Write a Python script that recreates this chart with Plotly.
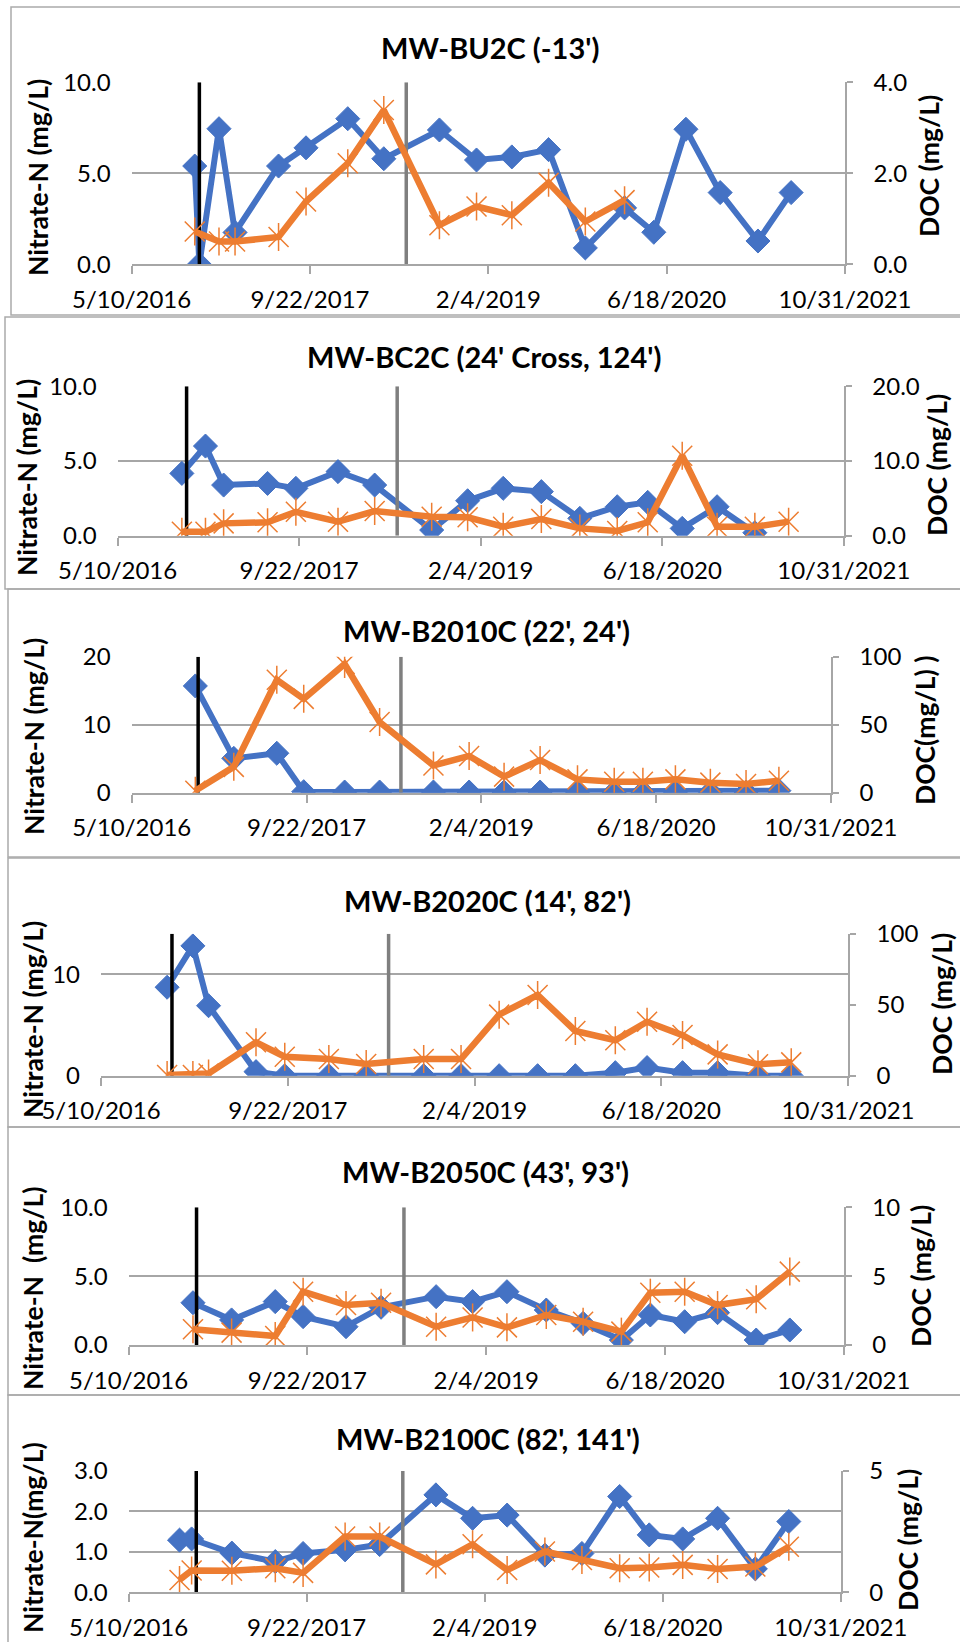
import plotly.graph_objects as go

W, H = 960, 1642
BLUE = '#4472C4'
ORANGE = '#ED7D31'
GRID = '#A6A6A6'
FRAME = '#ABABAB'

# ---------------- data ----------------
x_tick_dates = ['2016-05-10', '2017-09-22', '2019-02-04', '2020-06-18', '2021-10-31']
x_tick_labels = ['5/10/2016', '9/22/2017', '2/4/2019', '6/18/2020', '10/31/2021']
event_dates = ['2016-11-16', '2018-06-19']
event_colors = ['#000000', '#7F7F7F']

titles = ["MW-BU2C (-13')", "MW-BC2C (24' Cross, 124')", "MW-B2010C (22', 24')",
          "MW-B2020C (14', 82')", "MW-B2050C (43', 93')", "MW-B2100C (82', 141')"]
left_titles = ["Nitrate-N (mg/L)", "Nitrate-N (mg/L)", "Nitrate-N (mg/L)",
               "Nitrate-N (mg/L)", "Nitrate-N\u00a0\u00a0(mg/L)", "Nitrate-N(mg/L)"]
right_titles = ["DOC (mg/L)", "DOC (mg/L)", "DOC(mg/L) )", "DOC (mg/L)", "DOC (mg/L)", "DOC (mg/L)"]

bu2c_dates = ['2016-11-03', '2016-11-16', '2017-01-10', '2017-02-24', '2017-06-26', '2017-09-11',
              '2018-01-06', '2018-04-17', '2018-09-20', '2019-01-02', '2019-04-11', '2019-07-23',
              '2019-11-03', '2020-02-21', '2020-05-13', '2020-08-11', '2020-11-15', '2021-03-01',
              '2021-06-02']
bu2c_nitrate = [5.4, 0.0, 7.45, 1.75, 5.4, 6.4, 8.0, 5.8, 7.38, 5.73, 5.9, 6.3, 0.9, 3.1, 1.76,
                7.42, 3.94, 1.28, 3.94]
bu2c_doc = [0.72, None, 0.5, 0.5, 0.6, 1.38, 2.22, 3.39, 0.86, 1.27, 1.08, 1.79, 0.94, 1.41,
            None, None, None, None, None]

bc2c_dates = ['2016-11-03', '2017-01-07', '2017-02-26', '2017-06-27', '2017-09-13', '2018-01-07',
              '2018-04-18', '2018-09-22', '2018-12-30', '2019-04-07', '2019-07-21', '2019-11-04',
              '2020-02-15', '2020-05-09', '2020-08-12', '2020-11-16', '2021-02-28', '2021-06-01']
bc2c_nitrate = [4.17, 6.0, 3.39, 3.5, 3.17, 4.29, 3.39, 0.38, 2.34, 3.17, 2.95, 1.16, 1.94, 2.23,
                0.49, 1.94, 0.2, None]
bc2c_doc = [0.54, 0.54, 1.65, 1.79, 3.2, 1.87, 3.3, 2.54, 2.46, 1.2, 2.23, 0.98, 0.63, 1.79,
            10.7, 1.2, 1.2, 1.88]

b2010c_dates = ['2016-11-08', '2017-02-26', '2017-06-29', '2017-09-14', '2018-01-09', '2018-04-19',
                '2018-09-20', '2018-12-31', '2019-04-10', '2019-07-22', '2019-11-06', '2020-02-19',
                '2020-05-11', '2020-08-12', '2020-11-20', '2021-03-02', '2021-06-04']
b2010c_nitrate = [15.7, 5.05, 5.8, 0.15, 0.1, 0.1, 0.1, 0.1, 0.1, 0.1, 0.1, 0.1, 0.1, 0.1, 0.1,
                  0.1, 0.3]
b2010c_doc = [1.5, 19.0, 83.0, 69.0, 94.6, 52.0, 20.0, 27.0, 11.8, 24.0, 9.8, 8.0, 8.0, 9.8, 7.4,
              6.4, 8.8]

b2020c_dates = ['2016-11-03', '2017-01-11', '2017-02-22', '2017-06-29', '2017-09-14', '2018-01-10',
                '2018-04-20', '2018-09-21', '2018-12-30', '2019-04-11', '2019-07-23', '2019-11-01',
                '2020-02-16', '2020-05-11', '2020-08-14', '2020-11-16', '2021-03-04', '2021-06-01']
b2020c_nitrate = [8.72, 12.8, 6.9, 0.4, 0.0, 0.0, 0.0, 0.0, 0.0, 0.0, 0.0, 0.0, 0.3, 0.8, 0.3,
                  0.3, 0.0, 0.0]
b2020c_doc = [0.5, 0.5, 1.6, 23.5, 13.4, 11.7, 8.2, 11.7, 11.7, 43.0, 56.8, 31.5, 25.0, 38.0,
              28.6, 15.0, 8.0, 9.4]

b2050c_dates = ['2016-11-06', '2017-02-22', '2017-06-24', '2017-09-10', '2018-01-08', '2018-04-16',
                '2018-09-17', '2018-12-28', '2019-04-03', '2019-07-22', '2019-11-02', '2020-02-17',
                '2020-05-08', '2020-08-12', '2020-11-12', '2021-02-28', '2021-06-02']
b2050c_nitrate = [3.07, 1.82, 3.15, 2.06, 1.33, 2.74, 3.51, 3.15, 3.87, 2.54, 1.57, 0.36, 2.18,
                  1.69, 2.35, 0.36, 1.09]
b2050c_doc = [1.14, 0.9, 0.65, 3.87, 2.9, 3.07, 1.33, 2.0, 1.28, 2.18, 1.69, 0.97, 3.8, 3.87,
              2.9, 3.32, 5.33]

b2100c_dates = ['2016-09-30', '2016-11-03', '2017-02-24', '2017-06-26', '2017-09-12', '2018-01-08',
                '2018-04-15', '2018-09-20', '2019-01-01', '2019-04-08', '2019-07-23', '2019-11-04',
                '2020-02-18', '2020-05-11', '2020-08-13', '2020-11-19', '2021-03-05', '2021-06-07']
b2100c_nitrate = [1.29, 1.32, 0.97, 0.76, 0.96, 1.05, 1.18, 2.41, 1.83, 1.91, 0.92, 0.96, 2.37,
                  1.42, 1.32, 1.83, 0.58, 1.75]
b2100c_doc = [0.51, 0.9, 0.89, 0.99, 0.8, 2.3, 2.3, 1.15, 1.98, 0.92, 1.68, 1.33, 0.99, 1.02,
              1.13, 0.96, 1.06, 1.88]

panel_dates = [bu2c_dates, bc2c_dates, b2010c_dates, b2020c_dates, b2050c_dates, b2100c_dates]
panel_nitrate = [bu2c_nitrate, bc2c_nitrate, b2010c_nitrate, b2020c_nitrate, b2050c_nitrate, b2100c_nitrate]
panel_doc = [bu2c_doc, bc2c_doc, b2010c_doc, b2020c_doc, b2050c_doc, b2100c_doc]

left_ranges = [[0, 10], [0, 10], [0, 20], [0, 14], [0, 10], [0, 3]]
left_ticks = [[0, 5, 10], [0, 5, 10], [0, 10, 20], [0, 10], [0, 5, 10], [0, 1, 2, 3]]
left_fmt = ['.1f', '.1f', 'd', 'd', '.1f', '.1f']
right_ranges = [[0, 4], [0, 20], [0, 100], [0, 100], [0, 10], [0, 5]]
right_ticks = [[0, 2, 4], [0, 10, 20], [0, 50, 100], [0, 50, 100], [0, 5, 10], [0, 5]]
right_fmt = ['.1f', '.1f', 'd', 'd', 'd', 'd']

# ---------------- geometry (pixels) ----------------
plot_boxes = [(131.6, 845.0, 82.3, 264.3), (117.6, 843.8, 386.3, 535.7), (131.7, 831.0, 656.7, 792.7),
              (101.0, 848.0, 933.7, 1075.7), (128.6, 843.8, 1207.3, 1345.0), (128.6, 840.8, 1471.0, 1592.3)]
frames = [(11, 7, 975, 315), (5, 317, 975, 589), (8, 589, 975, 857), (8, 858, 975, 1127),
          (8, 1127, 975, 1395), (8, 1395, 975, 1660)]
title_pos = [(490, 48), (484, 357), (486, 630), (487, 900), (485, 1171), (488, 1438)]
left_title_pos = [(38, 178), (27, 478), (34, 737), (33, 1020), (33, 1288), (33, 1538)]
right_title_pos = [(929, 166), (937, 465), (925, 730), (942, 1004), (921, 1276), (908, 1540)]


def px(x):
    return x / W


def py(y):
    return 1 - y / H


fig = go.Figure()
layout = dict(template='none', width=W, height=H, margin=dict(l=0, r=0, t=0, b=0, pad=0),
              autosize=False,
              paper_bgcolor='white', plot_bgcolor='rgba(0,0,0,0)', showlegend=False,
              shapes=[], annotations=[])

tickfont = dict(family='Lato, Carlito, sans-serif', size=24, color='#000000')

for i in range(6):
    n = i + 1
    xa = 'x' if n == 1 else f'x{n}'
    yl = 'y' if n == 1 else f'y{2 * n - 1}'
    yr = f'y{2 * n}'
    xkey = 'xaxis' if n == 1 else f'xaxis{n}'
    ylkey = 'yaxis' if n == 1 else f'yaxis{2 * n - 1}'
    yrkey = f'yaxis{2 * n}'
    l, r, t, b = plot_boxes[i]

    layout[xkey] = dict(domain=[px(l), px(r)], anchor=yl, type='date', automargin=False,
                        range=['2016-05-10', '2021-10-31'], tickvals=x_tick_dates,
                        ticktext=x_tick_labels, ticks='outside', ticklen=8, tickwidth=1.5,
                        tickcolor=GRID, showgrid=False, showline=True, linecolor=GRID,
                        linewidth=1.8, zeroline=False, tickfont=tickfont, ticklabelstandoff=5,
                        fixedrange=True)
    layout[ylkey] = dict(domain=[py(b), py(t)], anchor=xa, range=left_ranges[i], automargin=False,
                         tickvals=left_ticks[i], tickformat=left_fmt[i], showgrid=True,
                         gridcolor=GRID, gridwidth=1.8, zeroline=False, showline=False,
                         ticks='', tickfont=tickfont, ticklabelstandoff=20, fixedrange=True)
    layout[yrkey] = dict(domain=[py(b), py(t)], anchor=xa, overlaying=yl, side='right',
                         automargin=False,
                         range=right_ranges[i], tickvals=right_ticks[i], tickformat=right_fmt[i],
                         showgrid=False, zeroline=False, showline=True, linecolor=GRID,
                         linewidth=1.5, ticks='outside', ticklen=6, tickwidth=1.5, tickcolor=GRID,
                         tickfont=tickfont, ticklabelstandoff=16, fixedrange=True)

    dates = panel_dates[i]
    fig.add_trace(go.Scatter(x=dates, y=panel_nitrate[i], xaxis=xa, yaxis=yl,
                             mode='lines+markers', connectgaps=True,
                             line=dict(color=BLUE, width=6),
                             marker=dict(symbol='diamond', size=18.5, color=BLUE,
                                         line=dict(color=BLUE, width=1))))
    for ed, ec in zip(event_dates, event_colors):
        fig.add_trace(go.Scatter(x=[ed, ed], y=left_ranges[i], xaxis=xa, yaxis=yl,
                                 mode='lines', line=dict(color=ec, width=3.5),
                                 hoverinfo='skip'))
    fig.add_trace(go.Scatter(x=dates, y=panel_doc[i], xaxis=xa, yaxis=yr,
                             mode='lines+markers', connectgaps=True,
                             line=dict(color=ORANGE, width=6.5),
                             marker=dict(symbol='x-thin-open', size=20, color=ORANGE,
                                         line=dict(color=ORANGE, width=1.5))))
    fig.add_trace(go.Scatter(x=dates, y=panel_doc[i], xaxis=xa, yaxis=yr,
                             mode='markers',
                             marker=dict(symbol='line-ns-open', size=20, color=ORANGE,
                                         line=dict(color=ORANGE, width=1.5))))

    fx0, fy0, fx1, fy1 = frames[i]
    layout['shapes'].append(dict(type='rect', xref='paper', yref='paper', layer='below',
                                 x0=px(fx0), x1=px(fx1), y0=py(fy1), y1=py(fy0),
                                 line=dict(color=FRAME, width=1.5), fillcolor='rgba(0,0,0,0)'))

    tx, ty = title_pos[i]
    layout['annotations'].append(dict(text=titles[i], xref='paper', yref='paper', x=px(tx), y=py(ty),
                                      xanchor='center', yanchor='middle', showarrow=False,
                                      font=dict(family='Lato, sans-serif', size=29, color='#000000',
                                                weight='bold')))
    lx, ly = left_title_pos[i]
    layout['annotations'].append(dict(text=left_titles[i], xref='paper', yref='paper', x=px(lx),
                                      y=py(ly), xanchor='center', yanchor='middle', textangle=-90,
                                      showarrow=False,
                                      font=dict(family='Lato, sans-serif', size=26.5, color='#000000',
                                                weight='bold')))
    rx, ry = right_title_pos[i]
    layout['annotations'].append(dict(text=right_titles[i], xref='paper', yref='paper', x=px(rx),
                                      y=py(ry), xanchor='center', yanchor='middle', textangle=-90,
                                      showarrow=False,
                                      font=dict(family='Lato, sans-serif', size=26.5, color='#000000',
                                                weight='bold')))

fig.update_layout(**layout)
fig.write_html('out.html', config={'displayModeBar': False},
               post_script="document.body.style.margin='0';document.body.style.padding='0';"
                           "document.documentElement.style.overflow='hidden';")
